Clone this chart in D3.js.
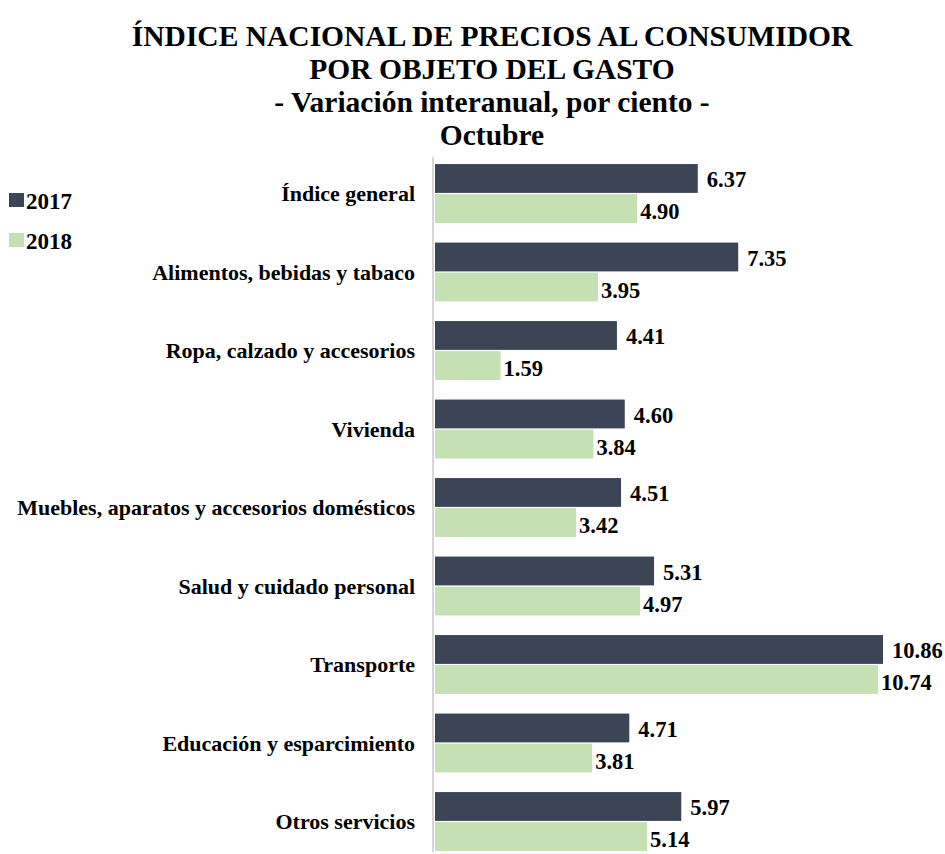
<!DOCTYPE html>
<html>
<head>
	<meta charset="utf-8">
	<title>INPC por objeto del gasto</title>
	<script src="https://cdn.jsdelivr.net/npm/d3@7"></script>
	<style>
		body { margin: 0; background: #fff; }
	</style>
</head>
<body>
	<script>
		var w = 945;
		var h = 854;
		var font = "'Liberation Serif', 'Times New Roman', serif";

		var categories = [
			"Índice general",
			"Alimentos, bebidas y tabaco",
			"Ropa, calzado y accesorios",
			"Vivienda",
			"Muebles, aparatos y accesorios domésticos",
			"Salud y cuidado personal",
			"Transporte",
			"Educación y esparcimiento",
			"Otros servicios"
		];
		var series = ["2017", "2018"];
		var values2017 = [6.37, 7.35, 4.41, 4.60, 4.51, 5.31, 10.86, 4.71, 5.97];
		var values2018 = [4.90, 3.95, 1.59, 3.84, 3.42, 4.97, 10.74, 3.81, 5.14];
		var titleLines = [
			"ÍNDICE NACIONAL DE PRECIOS AL CONSUMIDOR",
			"POR OBJETO DEL GASTO",
			"- Variación interanual, por ciento -",
			"Octubre"
		];
		var colors = ["#3b4556", "#c5e0b3"];

		var svg = d3.select("body").append("svg")
			.attr("width", w)
			.attr("height", h);

		// title, four centred lines
		svg.selectAll("text.title")
			.data(titleLines)
			.enter()
			.append("text")
			.attr("class", "title")
			.attr("x", 492)
			.attr("y", function(d, i) { return 46 + i * 33; })
			.attr("text-anchor", "middle")
			.style("font-family", font)
			.style("font-weight", "bold")
			.style("font-size", "29.5px")
			.text(function(d) { return d; });

		// scales
		var x = d3.scaleLinear().domain([0, 10.86]).range([435, 883]);
		var y = d3.scaleBand().domain(categories).range([154.25, 860.75])
			.paddingInner(0.25).paddingOuter(0.125);
		var ySub = d3.scaleBand().domain(series).range([0, y.bandwidth()]).paddingInner(0.04);

		// vertical axis line
		svg.append("line")
			.attr("x1", 433).attr("x2", 433)
			.attr("y1", 157).attr("y2", 852)
			.attr("stroke", "#d6d6d6")
			.attr("stroke-width", 2);

		var rows = categories.map(function(c, i) {
			return { cat: c, vals: [values2017[i], values2018[i]] };
		});

		var groups = svg.selectAll("g.row")
			.data(rows)
			.enter()
			.append("g")
			.attr("class", "row")
			.attr("transform", function(d) { return "translate(0," + y(d.cat) + ")"; });

		groups.selectAll("rect")
			.data(function(d) { return d.vals; })
			.enter()
			.append("rect")
			.attr("x", x(0))
			.attr("y", function(d, i) { return ySub(series[i]); })
			.attr("width", function(d) { return x(d) - x(0); })
			.attr("height", ySub.bandwidth())
			.attr("fill", function(d, i) { return colors[i]; });

		// value labels at the end of each bar
		groups.selectAll("text.val")
			.data(function(d) { return d.vals; })
			.enter()
			.append("text")
			.attr("class", "val")
			.attr("x", function(d, i) { return x(d) + (i === 0 ? 9 : 3); })
			.attr("y", function(d, i) { return ySub(series[i]) + ySub.bandwidth() / 2 + (i === 0 ? 1 : 3); })
			.attr("dy", "0.35em")
			.style("font-family", font)
			.style("font-weight", "bold")
			.style("font-size", "22.5px")
			.text(function(d) { return d.toFixed(2); });

		// category labels
		groups.append("text")
			.attr("x", 415)
			.attr("y", y.bandwidth() / 2)
			.attr("dy", "0.35em")
			.attr("text-anchor", "end")
			.style("font-family", font)
			.style("font-weight", "bold")
			.style("font-size", "22px")
			.text(function(d) { return d.cat; });

		// legend
		var legend = svg.selectAll("g.legend")
			.data(series)
			.enter()
			.append("g")
			.attr("class", "legend")
			.attr("transform", function(d, i) { return "translate(9," + (193 + i * 40) + ")"; });

		legend.append("rect")
			.attr("width", 15).attr("height", 14)
			.attr("fill", function(d, i) { return colors[i]; });

		legend.append("text")
			.attr("x", 17)
			.attr("y", 7.5)
			.attr("dy", "0.35em")
			.style("font-family", font)
			.style("font-weight", "bold")
			.style("font-size", "23px")
			.text(function(d) { return d; });
	</script>
</body>
</html>
